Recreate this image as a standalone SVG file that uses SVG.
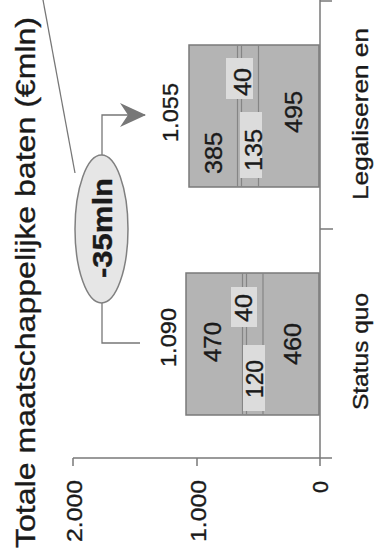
<svg xmlns="http://www.w3.org/2000/svg" width="374" height="553" viewBox="0 0 374 553">
<style>
text{font-family:"Liberation Sans",Arial,sans-serif;fill:#1a1a1a;stroke:#1a1a1a;stroke-width:0.35}
.t{font-size:28px}
.n{font-size:22px}
.v{font-size:23px}
.b{font-size:27px;font-weight:bold}
.ax{stroke:#7a7a7a;stroke-width:1.5;fill:none}
.bar{fill:#b4b4b4;stroke:#7a7a7a;stroke-width:1.5}
.seg{stroke:#858585;stroke-width:1.2}
.box{fill:#dcdcdc}
.ln{stroke:#777;stroke-width:1.3;fill:none}
</style>
<defs>
<marker id="arr" viewBox="0 0 26 24" refX="25" refY="12" markerWidth="26" markerHeight="24" markerUnits="userSpaceOnUse" orient="auto">
<path d="M0,0 L26,12 L0,24 L8,12 Z" fill="#777"/>
</marker>
</defs>
<rect width="374" height="553" fill="#fff"/>
<g id="title">
<text class="t" transform="translate(35,548) rotate(-90)" textLength="531" lengthAdjust="spacingAndGlyphs">Totale maatschappelijke baten (€mln)</text>
</g>
<g id="axes">
<path class="ax" d="M320,0 V458 M73,458 H332 M320,1 H332 M320,229 H333 M73,458 V466 M197,458 V466 M320,458 V466"/>
<text class="n" transform="translate(82,542) rotate(-90)" textLength="62" lengthAdjust="spacingAndGlyphs">2.000</text>
<text class="n" transform="translate(206,542) rotate(-90)" textLength="62" lengthAdjust="spacingAndGlyphs">1.000</text>
<text class="n" transform="translate(328,493) rotate(-90)" textLength="12" lengthAdjust="spacingAndGlyphs">0</text>
<text class="n" transform="translate(368,410) rotate(-90)" textLength="117" lengthAdjust="spacingAndGlyphs">Status quo</text>
<text class="n" transform="translate(368,200) rotate(-90)" textLength="172" lengthAdjust="spacingAndGlyphs">Legaliseren en</text>
</g>
<g id="bar-status-quo">
<rect class="bar" x="186" y="273" width="133" height="142"/>
<path class="seg" d="M263,273 V415 M242.5,273 V415 M246.5,273 V415"/>
<rect class="box" x="231" y="287" width="26" height="40"/>
<rect class="box" x="243" y="345" width="22" height="66"/>
<text class="n" transform="translate(176,367) rotate(-90)" textLength="59" lengthAdjust="spacingAndGlyphs">1.090</text>
<text class="v" transform="translate(221,362) rotate(-90)" textLength="40" lengthAdjust="spacingAndGlyphs">470</text>
<text class="v" transform="translate(252,322) rotate(-90)" textLength="28" lengthAdjust="spacingAndGlyphs">40</text>
<text class="v" transform="translate(263,398) rotate(-90)" textLength="38" lengthAdjust="spacingAndGlyphs">120</text>
<text class="v" transform="translate(301,365) rotate(-90)" textLength="42" lengthAdjust="spacingAndGlyphs">460</text>
</g>
<g id="bar-legaliseren">
<rect class="bar" x="189" y="45" width="130" height="142"/>
<path class="seg" d="M258.5,45 V187 M237.5,45 V187 M241.5,45 V187"/>
<rect class="box" x="226" y="58" width="27" height="41"/>
<rect class="box" x="240" y="112" width="22" height="66"/>
<text class="n" transform="translate(178,142) rotate(-90)" textLength="59" lengthAdjust="spacingAndGlyphs">1.055</text>
<text class="v" transform="translate(222,174) rotate(-90)" textLength="42" lengthAdjust="spacingAndGlyphs">385</text>
<text class="v" transform="translate(251,96) rotate(-90)" textLength="28" lengthAdjust="spacingAndGlyphs">40</text>
<text class="v" transform="translate(262,171) rotate(-90)" textLength="42" lengthAdjust="spacingAndGlyphs">135</text>
<text class="v" transform="translate(302,133) rotate(-90)" textLength="42" lengthAdjust="spacingAndGlyphs">495</text>
</g>
<g id="connectors">
<path class="ln" d="M43,0 L75,173"/>
<path class="ln" d="M102,303 V343 H140"/>
<path class="ln" d="M102,155 V115 H145" marker-end="url(#arr)"/>
</g>
<g id="callout">
<ellipse cx="101.5" cy="229" rx="26.5" ry="74" fill="#e6e6e6" stroke="#808080" stroke-width="1.5"/>
<text class="b" transform="translate(112,278) rotate(-90)" textLength="100" lengthAdjust="spacingAndGlyphs">-35mln</text>
</g>
</svg>
